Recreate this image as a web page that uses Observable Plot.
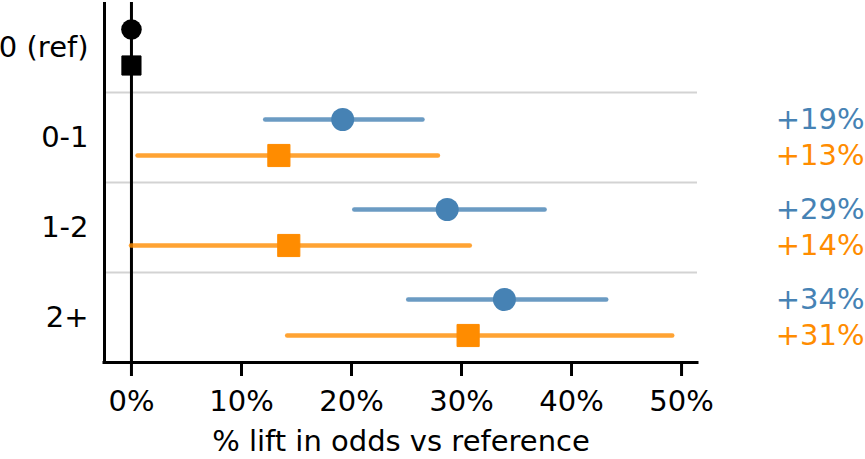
<!DOCTYPE html>
<html>
<head>
<meta charset="utf-8">
<script src="https://cdn.jsdelivr.net/npm/d3@7"></script>
<script src="https://cdn.jsdelivr.net/npm/@observablehq/plot@0.6"></script>
<style>
  html, body { margin: 0; padding: 0; background: #fff; }
</style>
</head>
<body>
<div id="chart"></div>
<script>
// Exposure groups (first one is the reference level)
const groups = ["0 (ref)", "0-1", "1-2", "2+"];

// Series A (blue circles): % lift estimate and 95% interval
const blueEst  = [0, 19.2, 28.7, 33.9];
const blueLow  = [null, 12.2, 20.3, 25.2];
const blueHigh = [null, 26.5, 37.6, 43.2];

// Series B (orange squares): % lift estimate and 95% interval
const orangeEst  = [0, 13.4, 14.3, 30.6];
const orangeLow  = [null, 0.6, 0.0, 14.2];
const orangeHigh = [null, 27.9, 30.8, 49.2];

// x-axis ticks (percent)
const xTicks = [0, 10, 20, 30, 40, 50];
const xLabel = "% lift in odds vs reference";

const BLUE = "#4682b4", ORANGE = "#ff8c00";
const FS = 29;
const series = [
  {name: "A", est: blueEst, low: blueLow, high: blueHigh, color: BLUE, symbol: "circle", shift: -0.2},
  {name: "B", est: orangeEst, low: orangeLow, high: orangeHigh, color: ORANGE, symbol: "square", shift: 0.2}
];

const rows = series.flatMap(s => groups.map((g, i) => ({
  group: g,
  idx: i,
  pos: i + s.shift,
  est: s.est[i],
  low: s.low[i],
  high: s.high[i],
  ref: i === 0,
  color: i === 0 ? "black" : s.color,
  symbol: s.symbol
})));

const xDomain = [-2.45, 51.45];
const yDomain = [-0.5, groups.length - 0.5];
const dividers = d3.range(1, groups.length).map(i => i - 0.5);

const intervals = rows.filter(d => !d.ref);
const pick = (symbol, ref) => rows.filter(d => d.symbol === symbol && d.ref === ref);

const plot = Plot.plot({
  width: 865,
  height: 459,
  marginLeft: 104,
  marginRight: 168,
  marginTop: 2,
  marginBottom: 97,
  style: {fontFamily: "'DejaVu Sans', sans-serif", fontSize: FS + "px", color: "black", background: "white"},
  x: {domain: xDomain},
  y: {domain: yDomain, reverse: true},
  marks: [
    // group dividers
    Plot.ruleY(dividers, {stroke: "#d3d3d3", strokeWidth: 2}),
    // reference line at zero lift
    Plot.ruleX([0], {stroke: "black", strokeWidth: 3}),
    // spines
    Plot.ruleX([xDomain[0]], {stroke: "black", strokeWidth: 3}),
    Plot.ruleY([yDomain[1]], {stroke: "black", strokeWidth: 3, strokeLinecap: "square"}),
    // confidence intervals
    Plot.ruleY(intervals, {
      y: "pos", x1: "low", x2: "high",
      stroke: "color", strokeOpacity: 0.8, strokeWidth: 4.5, strokeLinecap: "round"
    }),
    // point estimates: reference level (black) and exposed groups
    Plot.dot(pick("circle", true), {x: "est", y: "pos", symbol: "circle", r: 10.3, fill: "black"}),
    Plot.dot(pick("square", true), {
      x: "est", y: "pos", symbol: "square", r: 10.8,
      fill: "black", stroke: "black", strokeWidth: 1, strokeLinejoin: "round"
    }),
    Plot.dot(pick("circle", false), {x: "est", y: "pos", symbol: "circle", r: 11.5, fill: BLUE}),
    Plot.dot(pick("square", false), {
      x: "est", y: "pos", symbol: "square", r: 12.5,
      fill: ORANGE, stroke: ORANGE, strokeWidth: 1, strokeLinejoin: "round"
    }),
    // value labels on the right
    Plot.text(intervals, {
      y: "pos", frameAnchor: "right", textAnchor: "end", dx: 167,
      text: d => "+" + Math.round(d.est) + "%", fill: "color", fontSize: FS
    }),
    // axes
    Plot.axisY({
      ticks: d3.range(groups.length), tickFormat: i => groups[i],
      tickSize: 0, tickPadding: 16, fontSize: FS, label: null
    }),
    Plot.axisX({
      ticks: xTicks, tickFormat: d => d + "%",
      tickSize: 14, tickPadding: 14, strokeWidth: 3, fontSize: FS, label: null
    }),
    Plot.text([xLabel], {frameAnchor: "bottom", dy: 88, fontSize: FS, fill: "black"})
  ]
});

document.getElementById("chart").appendChild(plot);
</script>
</body>
</html>
